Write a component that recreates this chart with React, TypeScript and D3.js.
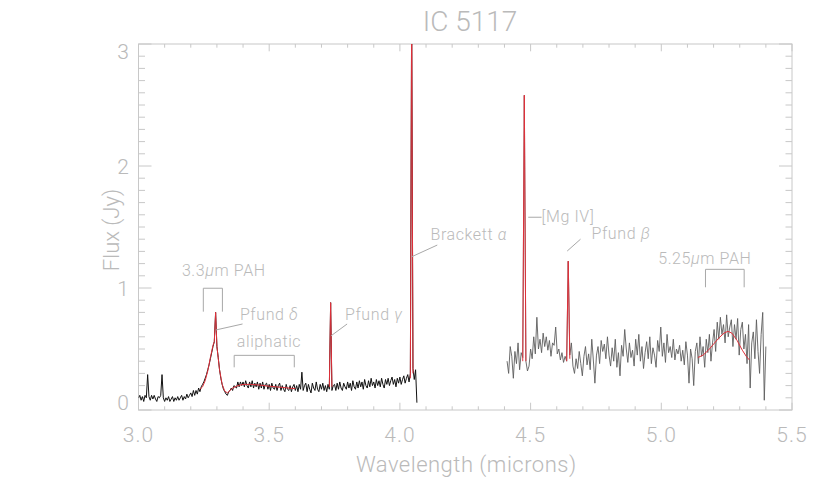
import React from "react";
import * as d3 from "d3";

// ---------- data ----------
const title = "IC 5117";
const xLabel = "Wavelength (microns)";
const yLabel = "Flux (Jy)";
const xTickValues = [3.0, 3.5, 4.0, 4.5, 5.0, 5.5];
const xTickLabels = ["3.0", "3.5", "4.0", "4.5", "5.0", "5.5"];
const yTickValues = [0, 1, 2, 3];
const yTickLabels = ["0", "1", "2", "3"];

// short-wavelength segment: wavelength grid start / step (microns)
const leftStart = 3.0;
const leftStep = 0.005;
const leftFlux = [
  0.10, 0.12, 0.08, 0.11, 0.07, 0.12, 0.10, 0.29, 0.11, 0.08,
  0.12, 0.09, 0.12, 0.09, 0.07, 0.11, 0.10, 0.12, 0.29, 0.10,
  0.07, 0.10, 0.08, 0.11, 0.07, 0.09, 0.11, 0.07, 0.10, 0.08,
  0.11, 0.08, 0.10, 0.12, 0.08, 0.11, 0.09, 0.13, 0.10, 0.12,
  0.14, 0.11, 0.16, 0.12, 0.16, 0.13, 0.18, 0.15, 0.19, 0.21,
  0.23, 0.26, 0.29, 0.33, 0.37, 0.42, 0.47, 0.52, 0.56, 0.80,
  0.52, 0.43, 0.33, 0.26, 0.21, 0.17, 0.15, 0.13, 0.12, 0.15,
  0.16, 0.18, 0.16, 0.20, 0.19, 0.18, 0.23, 0.19, 0.23, 0.20,
  0.23, 0.19, 0.24, 0.20, 0.18, 0.23, 0.19, 0.24, 0.18, 0.22,
  0.19, 0.23, 0.17, 0.22, 0.18, 0.23, 0.17, 0.21, 0.22, 0.17,
  0.21, 0.16, 0.22, 0.18, 0.17, 0.21, 0.16, 0.20, 0.22, 0.16,
  0.20, 0.17, 0.15, 0.21, 0.17, 0.16, 0.20, 0.15, 0.19, 0.21,
  0.16, 0.20, 0.15, 0.21, 0.17, 0.31, 0.16, 0.20, 0.22, 0.15,
  0.21, 0.17, 0.14, 0.22, 0.18, 0.16, 0.23, 0.17, 0.15, 0.21,
  0.17, 0.22, 0.16, 0.20, 0.15, 0.21, 0.17, 0.88, 0.16, 0.20,
  0.21, 0.16, 0.22, 0.17, 0.23, 0.18, 0.16, 0.22, 0.19, 0.17,
  0.23, 0.18, 0.22, 0.16, 0.24, 0.19, 0.17, 0.23, 0.18, 0.24,
  0.19, 0.23, 0.17, 0.25, 0.20, 0.18, 0.24, 0.19, 0.26, 0.20,
  0.23, 0.18, 0.25, 0.20, 0.24, 0.19, 0.26, 0.21, 0.18, 0.25,
  0.21, 0.26, 0.20, 0.24, 0.27, 0.21, 0.25, 0.19, 0.26, 0.22,
  0.27, 0.21, 0.25, 0.28, 0.22, 0.26, 0.29, 0.23, 0.30, 3.30,
  0.34, 0.25, 0.33, 0.06,
];

// long-wavelength segment
const rightStart = 4.41;
const rightStep = 0.006;
const rightFlux = [
  0.40, 0.30, 0.52, 0.44, 0.26, 0.48, 0.38, 0.55, 0.33, 0.47,
  0.43, 2.58, 0.40, 0.32, 0.36, 0.50, 0.42, 0.60, 0.46, 0.76,
  0.50, 0.58, 0.47, 0.63, 0.52, 0.60, 0.49, 0.57, 0.44, 0.55,
  0.53, 0.68, 0.46, 0.50, 0.41, 0.47, 0.39, 0.44, 0.40, 1.22,
  0.45, 0.55, 0.36, 0.30, 0.42, 0.34, 0.48, 0.38, 0.28, 0.44,
  0.52, 0.37, 0.46, 0.33, 0.58, 0.41, 0.22, 0.45, 0.52, 0.38,
  0.57, 0.48, 0.54, 0.42, 0.60, 0.45, 0.36, 0.51, 0.40, 0.58,
  0.35, 0.47, 0.28, 0.53, 0.44, 0.66, 0.50, 0.39, 0.55, 0.43,
  0.49, 0.36, 0.58, 0.45, 0.62, 0.40, 0.52, 0.34, 0.47, 0.56,
  0.42, 0.60, 0.38, 0.51, 0.45, 0.35, 0.57, 0.48, 0.68, 0.44,
  0.55, 0.39, 0.62, 0.47, 0.52, 0.43, 0.58, 0.41, 0.50, 0.46,
  0.53, 0.40, 0.49, 0.37, 0.56, 0.45, 0.22, 0.50, 0.42, 0.20,
  0.48, 0.55, 0.38, 0.60, 0.44, 0.52, 0.35, 0.58, 0.47, 0.62,
  0.40, 0.55, 0.66, 0.48, 0.72, 0.58, 0.76, 0.62, 0.70, 0.55,
  0.78, 0.60, 0.68, 0.74, 0.52, 0.70, 0.58, 0.75, 0.45, 0.66,
  0.72, 0.50, 0.62, 0.38, 0.70, 0.18, 0.55, 0.64, 0.42, 0.74,
  0.48, 0.30, 0.62, 0.80, 0.08, 0.52,
];

// red fitted components [wavelength, flux]
const fitPAH33: [number, number][] = [
  [3.235, 0.17], [3.245, 0.19], [3.255, 0.24], [3.265, 0.32], [3.275, 0.43],
  [3.285, 0.53], [3.29, 0.56], [3.295, 0.8], [3.3, 0.52], [3.31, 0.33],
  [3.32, 0.21], [3.33, 0.155], [3.34, 0.14],
];
const fitAliphatic: [number, number][] = [
  [3.34, 0.14], [3.35, 0.16], [3.36, 0.18], [3.38, 0.2], [3.4, 0.21],
  [3.43, 0.21], [3.46, 0.205], [3.5, 0.195], [3.55, 0.185], [3.6, 0.175],
];
const fitPfundG: [number, number][] = [[3.73, 0.19], [3.735, 0.88], [3.74, 0.19]];
const fitBrA: [number, number][] = [[4.04, 0.26], [4.045, 3.3], [4.05, 0.3]];
const fitMgIV: [number, number][] = [[4.47, 0.4], [4.476, 2.58], [4.482, 0.4]];
const fitPfundB: [number, number][] = [[4.638, 0.4], [4.644, 1.22], [4.65, 0.42]];
const fitPAH525: [number, number][] = [
  [5.14, 0.43], [5.16, 0.45], [5.18, 0.49], [5.2, 0.54], [5.22, 0.59],
  [5.24, 0.63], [5.255, 0.645], [5.27, 0.63], [5.29, 0.57], [5.31, 0.49],
  [5.325, 0.44], [5.337, 0.41],
];
const fits = [fitPAH33, fitAliphatic, fitPfundG, fitBrA, fitMgIV, fitPfundB, fitPAH525];

// annotations (data coordinates)
const labels = [
  { text: "3.3μm PAH", x: 3.166, y: 1.1 },
  { text: "Pfund δ", x: 3.388, y: 0.738 },
  { text: "aliphatic", x: 3.376, y: 0.516 },
  { text: "Pfund γ", x: 3.79, y: 0.738 },
  { text: "Brackett α", x: 4.117, y: 1.393 },
  { text: "[Mg IV]", x: 4.542, y: 1.545 },
  { text: "Pfund β", x: 4.733, y: 1.4 },
  { text: "5.25μm PAH", x: 4.988, y: 1.197 },
];
const leaders: [number, number, number, number][] = [
  [3.296, 0.656, 3.398, 0.705],
  [3.736, 0.607, 3.798, 0.705],
  [4.046, 1.257, 4.143, 1.352],
  [4.491, 1.58, 4.542, 1.58],
  [4.64, 1.303, 4.691, 1.4],
];
// brackets: x0, x1, top, bottom
const brackets: [number, number, number, number][] = [
  [3.248, 3.321, 0.998, 0.806],
  [3.366, 3.596, 0.448, 0.35],
  [5.169, 5.317, 1.153, 1.006],
];

// ---------- chart ----------
const W = 830;
const H = 498;
const L = 138.5, R = 792, T = 44, B = 410;
const FONT = "Roboto, 'DejaVu Sans', sans-serif";
const TXT = "#bababa";
const AX = "#c8c8c8";

function richText(s: string) {
  const parts = s.split(/([α-ωμ])/).filter((p) => p.length > 0);
  return parts.map((p, i) =>
    /[α-ωμ]/.test(p) ? (
      <tspan key={i} fontStyle="italic">{p}</tspan>
    ) : (
      <tspan key={i}>{p}</tspan>
    )
  );
}

export default function App() {
  const x = d3.scaleLinear().domain([3, 5.5]).range([L, R]);
  const y = d3.scaleLinear().domain([0, 3]).range([B, T]);
  const line = d3.line<[number, number]>().x((d) => x(d[0])).y((d) => y(d[1]));

  const leftPts: [number, number][] = leftFlux.map((v, i) => [leftStart + i * leftStep, v]);
  const rightPts: [number, number][] = rightFlux.map((v, i) => [rightStart + i * rightStep, v]);

  const xMinor = x.ticks(25);
  const yMinor = y.ticks(30);
  const isMajorX = (v: number) => xTickValues.some((m) => Math.abs(m - v) < 1e-6);
  const isMajorY = (v: number) => yTickValues.some((m) => Math.abs(m - v) < 1e-6);

  const xMajLen = 7.3, xMinLen = 3.7, yMajLen = 13, yMinLen = 6.5;

  return (
    <svg width={W} height={H} style={{ position: "absolute", left: 0, top: 0, background: "#fff" }}
      fontFamily={FONT}>
      <defs>
        <clipPath id="plotclip">
          <rect x={L} y={T} width={R - L} height={B - T} />
        </clipPath>
      </defs>
      <rect x={0} y={0} width={W} height={H} fill="#fff" />

      {/* title */}
      <text x={470} y={31} textAnchor="middle" fontSize={28} fontWeight={300} fill={TXT}>{title}</text>

      {/* axes box */}
      <rect x={L} y={T} width={R - L} height={B - T} fill="none" stroke={AX} strokeWidth={1} />

      {/* ticks */}
      {xMinor.map((v, i) => {
        const len = isMajorX(v) ? xMajLen : xMinLen;
        const px = x(v);
        return (
          <g key={"xt" + i} stroke={AX} strokeWidth={1}>
            <line x1={px} x2={px} y1={B} y2={B - len} />
            <line x1={px} x2={px} y1={T} y2={T + len} />
          </g>
        );
      })}
      {yMinor.map((v, i) => {
        const len = isMajorY(v) ? yMajLen : yMinLen;
        const py = y(v);
        return (
          <g key={"yt" + i} stroke={AX} strokeWidth={1}>
            <line x1={L} x2={L + len} y1={py} y2={py} />
            <line x1={R} x2={R - len} y1={py} y2={py} />
          </g>
        );
      })}

      {/* tick labels */}
      {xTickValues.map((v, i) => (
        <text key={"xl" + i} x={x(v)} y={442} textAnchor="middle" fontSize={21} fontWeight={300}
          fill={TXT} letterSpacing={1}>{xTickLabels[i]}</text>
      ))}
      {yTickValues.map((v, i) => {
        const c = Math.min(Math.max(y(v), T + 7.5), B - 7.5);
        return (
          <text key={"yl" + i} x={129} y={c + 7.5} textAnchor="end" fontSize={21} fontWeight={300}
            fill={TXT}>{yTickLabels[i]}</text>
        );
      })}

      {/* axis titles */}
      <text x={(L + R) / 2 + 1} y={472} textAnchor="middle" fontSize={22} fontWeight={300} fill={TXT}
        letterSpacing={0.5}>{xLabel}</text>
      <text transform={`translate(119,230) rotate(-90)`} textAnchor="middle" fontSize={22} fontWeight={300}
        fill={TXT}>{yLabel}</text>

      {/* data */}
      <g clipPath="url(#plotclip)" fill="none">
        <path d={line(leftPts) || ""} stroke="#111" strokeWidth={1} />
        <path d={line(rightPts) || ""} stroke="#5e5e5e" strokeWidth={0.9} />
        {fits.map((f, i) => (
          <path key={"f" + i} d={line(f) || ""} stroke="#e0303a" strokeWidth={1} />
        ))}
      </g>

      {/* annotations */}
      <g stroke="#a8a8a8" strokeWidth={1} fill="none">
        {leaders.map((l, i) => (
          <line key={"ld" + i} x1={x(l[0])} y1={y(l[1])} x2={x(l[2])} y2={y(l[3])} />
        ))}
        {brackets.map((b, i) => (
          <path key={"br" + i}
            d={`M${x(b[0])},${y(b[3])}V${y(b[2])}H${x(b[1])}V${y(b[3])}`} />
        ))}
      </g>
      {labels.map((lb, i) => (
        <text key={"lb" + i} x={x(lb.x)} y={y(lb.y)} fontSize={16} fontWeight={300} fill={TXT}
          letterSpacing={0.6}>{richText(lb.text)}</text>
      ))}
    </svg>
  );
}
